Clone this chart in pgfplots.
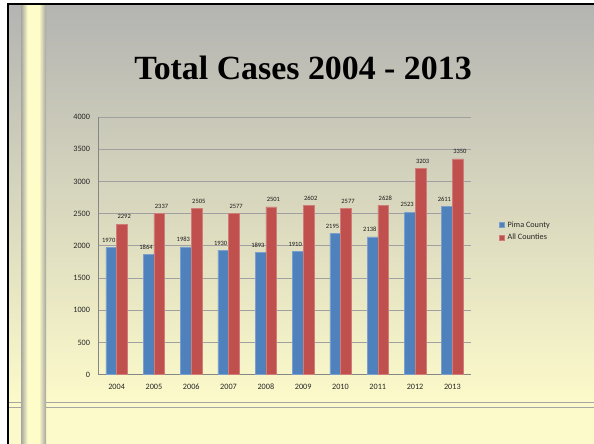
\documentclass[border=0pt]{standalone}
\usepackage{fontspec}
\setmainfont{Carlito}
\newfontfamily\titlefont{Liberation Serif}
\usepackage{pgfplots}
\pgfplotsset{compat=1.18}
\definecolor{pimablue}{RGB}{79,129,189}
\definecolor{allred}{RGB}{192,80,77}
\definecolor{bggray}{RGB}{180,180,178}
\definecolor{bgyellow}{RGB}{252,250,202}
\definecolor{stripgray}{RGB}{165,165,160}
\definecolor{stripyellow}{RGB}{254,252,200}
\definecolor{gridgray}{RGB}{160,160,160}
\definecolor{axisgray}{RGB}{134,134,134}
\definecolor{linegray}{RGB}{165,165,165}
\begin{document}
\begin{tikzpicture}[x=1bp,y=1bp]
\useasboundingbox (0,0) rectangle (594,444);
\begin{scope}
\clip (0,0) rectangle (594,444);
\fill[white] (-2,-2) rectangle (600,450);
% slide background
\shade[top color=bggray, bottom color=bgyellow] (9,44) rectangle (600,439.2);
\fill[bgyellow] (9,-2) rectangle (600,44.2);
% horizontal rules
\draw[linegray, line width=0.9bp] (9,41.7) -- (600,41.7);
\draw[linegray, line width=0.9bp] (9,36.7) -- (600,36.7);
% vertical strip
\shade[left color=stripgray, right color=stripyellow] (21,-2) rectangle (27.6,439.2);
\fill[stripyellow] (27.5,-2) rectangle (39.1,439.2);
\shade[left color=stripyellow, right color=stripgray] (39,-2) rectangle (46,439.2);
% border
\fill[black] (7,-2) rectangle (9,441);
\fill[black] (7,439) rectangle (600,441);
\end{scope}
% title
\node[anchor=base, inner sep=0, font=\titlefont\bfseries\fontsize{34}{40}\selectfont] at (303,364.5) {Total Cases 2004 - 2013};
\begin{axis}[
  at={(98bp,69.5bp)}, anchor=south west, scale only axis,
  width=373bp, height=257.5bp,
  xmin=-0.5, xmax=9.5, ymin=0, ymax=4000,
  ybar=0pt, bar width=10.7bp,
  xtick={0,1,2,3,4,5,6,7,8,9},
  xticklabels={2004,2005,2006,2007,2008,2009,2010,2011,2012,2013},
  ytick={0,500,1000,1500,2000,2500,3000,3500,4000},
  scaled y ticks=false,
  axis x line*=bottom, axis y line*=left,
  axis line style={axisgray, line width=0.8bp, -},
  ymajorgrids, grid style={gridgray, line width=0.6bp},
  major tick length=0pt,
  tick label style={font=\fontsize{8.2bp}{9.8bp}\selectfont, text=black!85, text height=5.6bp, text depth=0bp},
  /pgf/number format/assume math mode=true,
  /pgf/number format/1000 sep={},
  yticklabel style={xshift=-4.5bp},
  xticklabel style={yshift=-5.5bp},
  nodes near coords, point meta=explicit symbolic,
  every node near coord/.append style={font=\fontsize{6.5bp}{8bp}\selectfont, yshift=1.5bp, text=black!90},
  legend style={at={(1.075,0.6)}, anchor=north west, draw=none, fill=none,
    font=\fontsize{8.2bp}{9.8bp}\selectfont, row sep=3bp, inner sep=0pt,
    nodes={inner sep=1.2bp, text=black!85}},
  legend cell align=left,
  legend image code/.code={\fill[#1] (0bp,-2.6bp) rectangle (5.2bp,2.6bp);},
]
\addplot[fill=pimablue, draw=pimablue!75!white, line width=0.5bp,
  every node near coord/.append style={xshift=-2.6bp}] coordinates {
 (0,1970) [1970] (1,1864) [1864] (2,1983) [1983] (3,1930) [1930] (4,1893) [1893]
 (5,1910) [1910] (6,2195) [2195] (7,2138) [2138] (8,2523) [2523] (9,2611) [2611]};
\addlegendentry{\hspace{1.5bp}Pima County}
\addplot[fill=allred, draw=allred!75!white, line width=0.5bp,
  every node near coord/.append style={xshift=2.2bp}] coordinates {
 (0,2337) [2292] (1,2505) [2337] (2,2577) [2505] (3,2501) [2577] (4,2602) [2501]
 (5,2625) [2602] (6,2577) [2577] (7,2628) [2628] (8,3203) [3203] (9,3350) [3350]};
\addlegendentry{\hspace{1.5bp}All Counties}
\end{axis}
\end{tikzpicture}
\end{document}
